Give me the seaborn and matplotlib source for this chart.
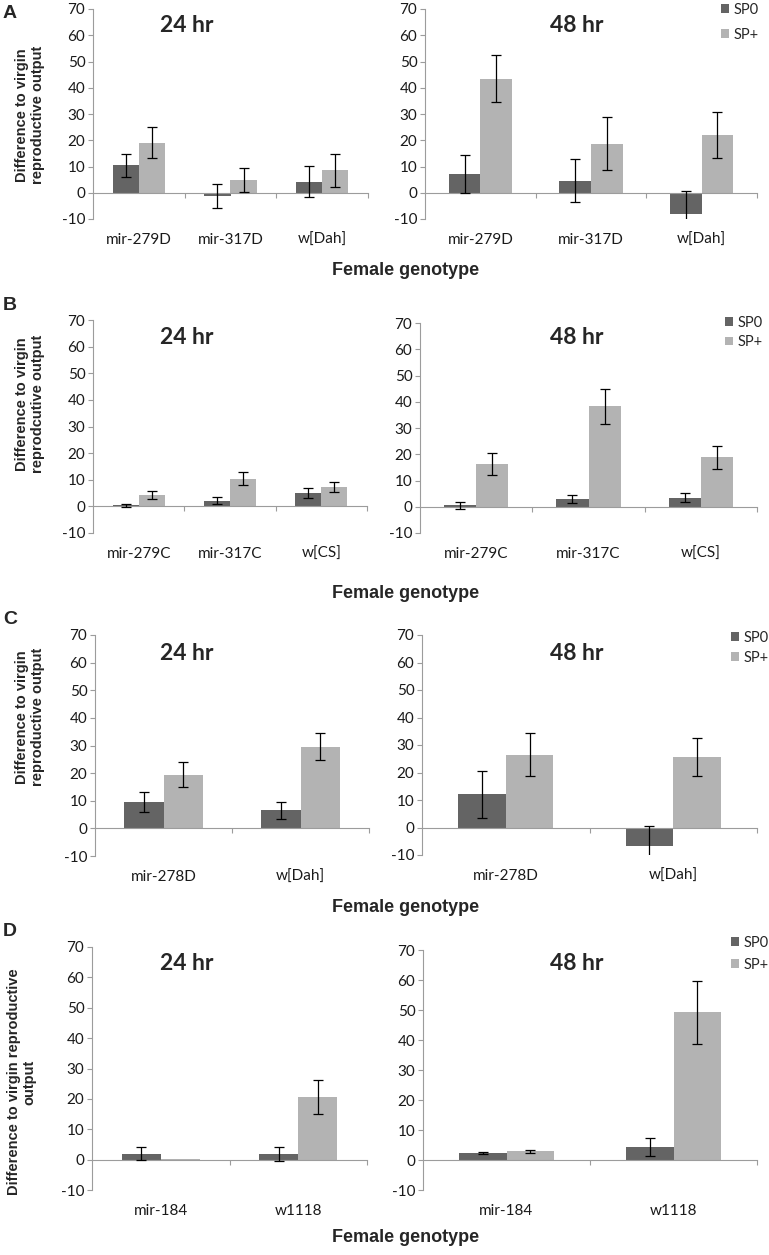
import numpy as np
import pandas as pd
import matplotlib
matplotlib.use("Agg")
import matplotlib.pyplot as plt
import seaborn as sns

# ---- data ----
treatments = ["SP0", "SP+"]

a_genotypes = ["mir-279D", "mir-317D", "w[Dah]"]
a24_sp0 = [10.4, -1.3, 4.2]
a24_sp0_err = [4.3, 4.6, 5.9]
a24_spp = [19.1, 4.8, 8.5]
a24_spp_err = [5.8, 4.5, 6.4]
a48_sp0 = [7.1, 4.6, -8.2]
a48_sp0_err = [7.2, 8.3, 8.7]
a48_spp = [43.4, 18.7, 21.9]
a48_spp_err = [9.0, 10.2, 8.8]

b_genotypes = ["mir-279C", "mir-317C", "w[CS]"]
b24_sp0 = [0.4, 2.1, 4.9]
b24_sp0_err = [0.6, 1.3, 1.9]
b24_spp = [4.3, 10.4, 7.3]
b24_spp_err = [1.5, 2.5, 2.0]
b48_sp0 = [0.5, 3.0, 3.5]
b48_sp0_err = [1.5, 1.4, 1.7]
b48_spp = [16.2, 38.3, 18.9]
b48_spp_err = [4.2, 6.6, 4.4]

c_genotypes = ["mir-278D", "w[Dah]"]
c24_sp0 = [9.5, 6.5]
c24_sp0_err = [3.6, 3.1]
c24_spp = [19.4, 29.6]
c24_spp_err = [4.6, 4.8]
c48_sp0 = [12.1, -6.9]
c48_sp0_err = [8.5, 7.3]
c48_spp = [26.5, 25.7]
c48_spp_err = [7.7, 7.0]

d_genotypes = ["mir-184", "w1118"]
d24_sp0 = [2.0, 2.0]
d24_sp0_err = [2.0, 2.3]
d24_spp = [0.1, 20.6]
d24_spp_err = [0.0, 5.5]
d48_sp0 = [2.3, 4.3]
d48_sp0_err = [0.4, 3.0]
d48_spp = [2.9, 49.2]
d48_spp_err = [0.6, 10.6]

colors = {"SP0": "#646464", "SP+": "#b3b3b3"}
axis_gray = "#9c9c9c"

W, H = 769, 1255
sns.set_theme(style="white")
plt.rcParams["font.family"] = ["Lato", "DejaVu Sans"]
plt.rcParams["axes.unicode_minus"] = False

fig = plt.figure(figsize=(W / 100, H / 100), dpi=100)


def fx(x):
    return x / W


def fy(y):
    return 1 - y / H


def add_axes(x0, x1, y0, y1):
    return fig.add_axes([fx(x0), fy(y1), (x1 - x0) / W, (y1 - y0) / H])


def draw_chart(ax, genotypes, sp0, sp0_err, spp, spp_err, height_px, legend=None):
    n = len(genotypes)
    df = pd.DataFrame({
        "genotype": genotypes * 2,
        "treatment": ["SP0"] * n + ["SP+"] * n,
        "value": sp0 + spp,
        "err": sp0_err + spp_err,
    })
    sns.barplot(data=df, x="genotype", y="value", hue="treatment",
                hue_order=treatments, palette=colors, width=0.57,
                errorbar=None, saturation=1, linewidth=0, ax=ax,
                legend=legend is not None)

    # error bars at the centres of the seaborn bars
    for container, t in zip(ax.containers, treatments):
        sub = df[df["treatment"] == t]
        xs = np.array([b.get_x() + b.get_width() / 2 for b in container])
        vals = sub["value"].to_numpy()
        errs = sub["err"].to_numpy()
        keep = errs > 0
        ax.errorbar(xs[keep], vals[keep], yerr=errs[keep], fmt="none",
                    ecolor="black", elinewidth=0.9, capsize=3.6, capthick=0.9,
                    zorder=5)

    ax.set_ylim(-10, 70)
    ax.set_yticks(range(-10, 71, 10))
    ax.set_xlim(-0.5, n - 0.5)
    ax.set_xlabel("")
    ax.set_ylabel("")

    for s in ["top", "right"]:
        ax.spines[s].set_visible(False)
    ax.spines["left"].set_color(axis_gray)
    ax.spines["left"].set_linewidth(0.8)
    ax.spines["bottom"].set_position(("data", 0))
    ax.spines["bottom"].set_color(axis_gray)
    ax.spines["bottom"].set_linewidth(0.8)

    pad = (height_px / 8 + 14) * 0.72
    ax.tick_params(axis="x", which="major", length=0, pad=pad, labelsize=11,
                   labelcolor="#1a1a1a")
    ax.set_xticks([i + 0.5 for i in range(n)], minor=True)
    ax.tick_params(axis="x", which="minor", length=3.5, width=0.8,
                   color=axis_gray, direction="out", bottom=True)
    ax.tick_params(axis="y", length=3.5, width=0.8, color=axis_gray,
                   direction="out", left=True, labelsize=11, pad=2,
                   labelcolor="#1a1a1a")

    if legend is not None:
        lx, ly, spacing = legend
        sns.move_legend(ax, "upper left", bbox_to_anchor=(fx(lx), fy(ly)),
                        bbox_transform=fig.transFigure, title=None,
                        frameon=False, handlelength=0.55, handleheight=0.55,
                        handletextpad=0.3, labelspacing=spacing, borderpad=0,
                        borderaxespad=0, fontsize=10.5)


# (letter, genotypes, 24 hr data, 48 hr data, left box, right box, legend,
#  letter y, title y, xlabel y, ylabel pos, ylabel)
panels = [
    ("A", a_genotypes,
     (a24_sp0, a24_sp0_err, a24_spp, a24_spp_err),
     (a48_sp0, a48_sp0_err, a48_spp, a48_spp_err),
     (93, 368, 9, 219), (425, 757, 9, 219), (721, 3, 0.75),
     13, 25, 271, (30, 115), "Difference to virgin\nreproductive output"),
    ("B", b_genotypes,
     (b24_sp0, b24_sp0_err, b24_spp, b24_spp_err),
     (b48_sp0, b48_sp0_err, b48_spp, b48_spp_err),
     (93, 367, 320, 533), (420, 757, 323, 533), (725, 316, 0.35),
     305, 338, 593, (30, 404), "Difference to virgin\nreprodcutive output"),
    ("C", c_genotypes,
     (c24_sp0, c24_sp0_err, c24_spp, c24_spp_err),
     (c48_sp0, c48_sp0_err, c48_spp, c48_spp_err),
     (95, 369, 635, 856), (422, 757, 635, 855), (731, 631, 0.4),
     620, 653, 908, (30, 717), "Difference to virgin\nreproductive output"),
    ("D", d_genotypes,
     (d24_sp0, d24_sp0_err, d24_spp, d24_spp_err),
     (d48_sp0, d48_sp0_err, d48_spp, d48_spp_err),
     (92, 367, 947, 1190), (423, 757, 950, 1190), (731, 936, 0.55),
     932, 963, 1237, (22, 1082), "Difference to virgin reproductive\noutput"),
]

for (letter, genos, d24, d48, box_l, box_r, leg, letter_y, title_y,
     xlabel_y, ylab_pos, ylab) in panels:
    ax_l = add_axes(*box_l)
    draw_chart(ax_l, genos, *d24, height_px=box_l[3] - box_l[2])
    ax_r = add_axes(*box_r)
    draw_chart(ax_r, genos, *d48, height_px=box_r[3] - box_r[2], legend=leg)

    fig.text(fx(187), fy(title_y), "24 hr", ha="center", va="center",
             fontsize=16.5, fontweight="bold")
    fig.text(fx(577), fy(title_y), "48 hr", ha="center", va="center",
             fontsize=16.5, fontweight="bold")
    fig.text(fx(3), fy(letter_y), letter, ha="left", va="center",
             fontsize=14, fontweight="bold", family="Liberation Sans")
    fig.text(fx(406), fy(xlabel_y), "Female genotype", ha="center",
             va="center", fontsize=13, fontweight="bold",
             family="Liberation Sans")
    fig.text(fx(ylab_pos[0]), fy(ylab_pos[1]), ylab, rotation=90,
             ha="center", va="center", multialignment="center",
             fontsize=10.5, fontweight="bold", family="Liberation Sans",
             linespacing=1.15)

fig.savefig("out.png", dpi=100, facecolor="white")
